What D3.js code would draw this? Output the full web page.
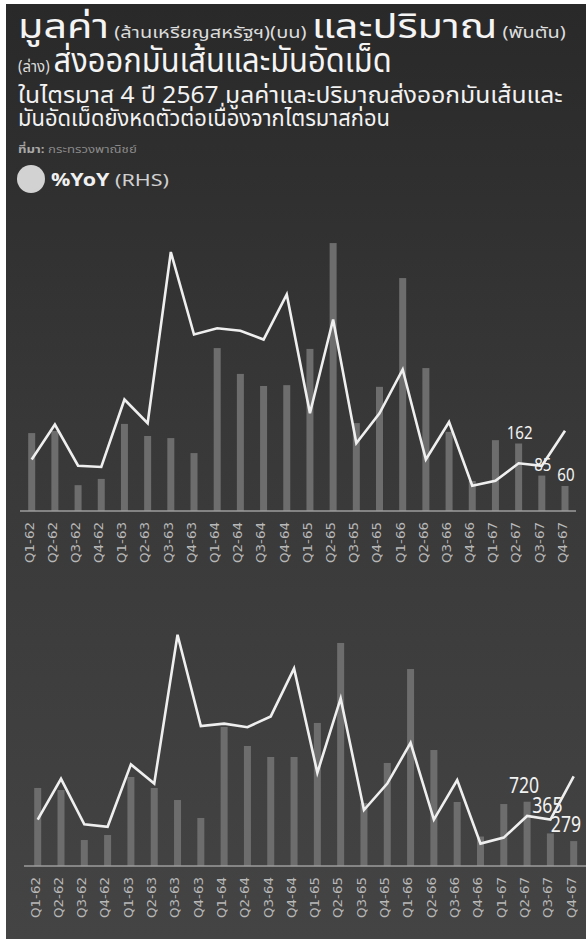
<!DOCTYPE html>
<html>
<head>
<meta charset="utf-8">
<script src="https://cdn.jsdelivr.net/npm/d3@7/dist/d3.min.js"></script>
<style>
  html, body { margin: 0; padding: 0; background: #ffffff; }
  svg { display: block; }
</style>
</head>
<body>
<svg id="chart" width="586" height="939"></svg>
<script>
// ---------------- DATA ----------------
const quarters = ["Q1-62","Q2-62","Q3-62","Q4-62","Q1-63","Q2-63","Q3-63","Q4-63",
                  "Q1-64","Q2-64","Q3-64","Q4-64","Q1-65","Q2-65","Q3-65","Q4-65",
                  "Q1-66","Q2-66","Q3-66","Q4-66","Q1-67","Q2-67","Q3-67","Q4-67"];

// Export value (million USD) - top chart
const valueUSD = [187, 192, 62, 77, 209, 180, 175, 139,
                  391, 329, 300, 302, 389, 643, 211, 298,
                  559, 343, 190, 72, 170, 162, 85, 60];
// %YoY of value (RHS, hidden axis)
const valueYoY = [-42, -14, -47, -48, 6, -13, 124, 58,
                  63, 61, 54, 90, -5, 70, -29, -5,
                  30, -42, -12, -63, -59, -45, -47, -19];

// Export volume (thousand tonnes) - bottom chart
const volumeTon = [874, 851, 291, 347, 997, 874, 739, 538,
                   1557, 1344, 1221, 1221, 1602, 2498, 706, 1154,
                   2206, 1299, 717, 330, 694, 720, 365, 279];
// %YoY of volume (RHS, hidden axis)
const volumeYoY = [-53, -19, -57, -59, -7, -23, 101, 25,
                   27, 24, 33, 73, -14, 48, -45, -23,
                   11, -53, -20, -73, -68, -50, -53, -17];

const labeledQuarters = ["Q2-67", "Q3-67", "Q4-67"];

const titleLine1 = [["มูลค่า", "big"], [" (ล้านเหรียญสหรัฐฯ)(บน) ", "small"], ["และปริมาณ", "big"], [" (พันตัน)", "small"]];
const titleLine2 = [["(ล่าง) ", "small"], ["ส่งออกมันเส้นและมันอัดเม็ด", "big"]];
const subtitle1 = "ในไตรมาส 4 ปี 2567 มูลค่าและปริมาณส่งออกมันเส้นและ";
const subtitle2 = "มันอัดเม็ดยังหดตัวต่อเนื่องจากไตรมาสก่อน";
const sourceLabel = "ที่มา:";
const sourceText = " กระทรวงพาณิชย์";
const legendLabel = "%YoY";
const legendSuffix = " (RHS)";

// ---------------- DRAW ----------------
const W = 586, H = 939;
const svg = d3.select("#chart");
const thaiFont = "'Noto Sans Thai', 'Noto Sans Thai UI', 'Noto Sans', sans-serif";

const defs = svg.append("defs");
const grad = defs.append("linearGradient").attr("id", "bg").attr("x1", 0).attr("y1", 0).attr("x2", 0).attr("y2", 1);
grad.append("stop").attr("offset", "0%").attr("stop-color", "#292929");
grad.append("stop").attr("offset", "45%").attr("stop-color", "#383838");
grad.append("stop").attr("offset", "100%").attr("stop-color", "#444444");

svg.append("rect").attr("width", W).attr("height", H).attr("fill", "#ffffff");
svg.append("rect").attr("x", 6).attr("y", 4).attr("width", W - 6).attr("height", H - 4).attr("fill", "url(#bg)");

const sizes = { big: 33, small: 16 };

function fitText(parts, x, baseline, targetWidth, opts = {}) {
  const t = svg.append("text")
    .attr("font-family", thaiFont)
    .attr("fill", opts.fill || "#f2f2f2");
  parts.forEach(p => {
    t.append("tspan")
      .attr("font-size", p.size)
      .attr("font-weight", p.weight || 400)
      .attr("fill", p.fill || null)
      .text(p.text);
  });
  const w = t.node().getComputedTextLength();
  const sx = w > 0 ? targetWidth / w : 1;
  t.attr("transform", `translate(${x},${baseline}) scale(${sx},1)`);
  return t;
}

fitText(titleLine1.map(([text, k]) => ({ text, size: sizes[k], fill: k === "small" ? "#dcdcdc" : "#f4f4f4" })), 18, 38, 548);
fitText(titleLine2.map(([text, k]) => ({ text, size: sizes[k], fill: k === "small" ? "#dcdcdc" : "#f4f4f4" })), 18, 72, 374);
fitText([{ text: subtitle1, size: 23 }], 18, 103, 545);
fitText([{ text: subtitle2, size: 23 }], 18, 126, 372);
fitText([{ text: sourceLabel, size: 11, weight: 700, fill: "#a8a8a8" }, { text: sourceText, size: 11, fill: "#8a8a8a" }], 18, 153, 119);

// legend
svg.append("circle").attr("cx", 31).attr("cy", 179).attr("r", 14).attr("fill", "#d2d2d2");
fitText([{ text: legendLabel, size: 17, weight: 700, fill: "#f0f0f0" }, { text: legendSuffix, size: 17, fill: "#d0d0d0" }], 51, 186, 118);

function drawPanel(cfg) {
  const g = svg.append("g");
  const x = d3.scalePoint().domain(quarters).range(cfg.xRange);
  const y = d3.scaleLinear().domain(cfg.barDomain).range([cfg.base, cfg.barTop]);
  const yr = d3.scaleLinear().domain(cfg.yoyDomain).range(cfg.yoyRange);
  const bw = 7;

  // bars
  g.append("g").selectAll("rect").data(quarters).join("rect")
    .attr("x", d => x(d) - bw / 2)
    .attr("width", bw)
    .attr("y", (d, i) => y(cfg.bars[i]))
    .attr("height", (d, i) => cfg.base - y(cfg.bars[i]))
    .attr("fill", "#6d6d6d");

  // baseline
  g.append("line").attr("x1", cfg.axisX[0]).attr("x2", cfg.axisX[1])
    .attr("y1", cfg.base).attr("y2", cfg.base)
    .attr("stroke", "#9c9c9c").attr("stroke-width", 1.6);

  // axis labels
  const ax = g.append("g").attr("transform", `translate(0,${cfg.base})`)
    .call(d3.axisBottom(x).tickSize(0));
  ax.select(".domain").remove();
  ax.selectAll("text")
    .attr("transform", "rotate(-90)")
    .attr("text-anchor", "end")
    .attr("x", -11).attr("y", 0).attr("dy", "0.1em")
    .attr("font-family", "'DejaVu Sans Condensed', 'DejaVu Sans', sans-serif")
    .attr("font-size", 13)
    .attr("fill", "#b8b8b8")
    .attr("textLength", 41)
    .attr("lengthAdjust", "spacingAndGlyphs");

  // YoY line
  const line = d3.line().x((d, i) => x(quarters[i])).y(d => yr(d));
  g.append("path").datum(cfg.yoy)
    .attr("d", line)
    .attr("fill", "none")
    .attr("stroke", "#efefef")
    .attr("stroke-width", 2.6)
    .attr("stroke-linejoin", "miter");

  // value labels: condensed, kept inside the right edge, stacked upward on collision
  const labels = g.append("g").selectAll("text").data(labeledQuarters).join("text")
    .attr("text-anchor", "middle")
    .attr("font-family", "'Noto Sans', sans-serif")
    .attr("font-size", cfg.labelSize)
    .attr("fill", "#f2f2f2")
    .text(d => cfg.bars[quarters.indexOf(d)]);
  const nat = labels.nodes().map(n => n.getComputedTextLength());
  const tl = labeledQuarters.map(d => String(cfg.bars[quarters.indexOf(d)]).length * cfg.labelSize * 0.48);
  const pos = labeledQuarters.map((d, i) => {
    const half = Math.max(nat[i], tl[i]) / 2;
    return {
      x: Math.min(x(d) + cfg.labelDx, W - 2 - half),
      y: y(cfg.bars[quarters.indexOf(d)]) - cfg.labelGap,
      half: tl[i] / 2
    };
  });
  for (let i = pos.length - 2; i >= 0; i--) {
    const a = pos[i], b = pos[i + 1];
    const hOverlap = a.x + a.half > b.x - b.half;
    if (hOverlap && a.y > b.y - cfg.labelSize * 0.9) a.y = b.y - cfg.labelSize * 0.9;
  }
  labels
    .attr("x", (d, i) => pos[i].x)
    .attr("y", (d, i) => pos[i].y)
    .attr("textLength", (d, i) => tl[i])
    .attr("lengthAdjust", "spacingAndGlyphs");
}

drawPanel({
  bars: valueUSD, yoy: valueYoY,
  xRange: [31.7, 565], axisX: [20, 576],
  base: 511, barDomain: [0, 650], barTop: 511 - 650 / 2.4,
  yoyDomain: [-80, 130], yoyRange: [507, 244.5],
  labelGap: 5, labelSize: 18, labelDx: 1
});

drawPanel({
  bars: volumeTon, yoy: volumeYoY,
  xRange: [37.7, 573.7], axisX: [24, 586],
  base: 866, barDomain: [0, 2500], barTop: 866 - 2500 / 11.2,
  yoyDomain: [-90, 110], yoyRange: [864, 624],
  labelGap: 9, labelSize: 21, labelDx: -3
});
</script>
</body>
</html>
